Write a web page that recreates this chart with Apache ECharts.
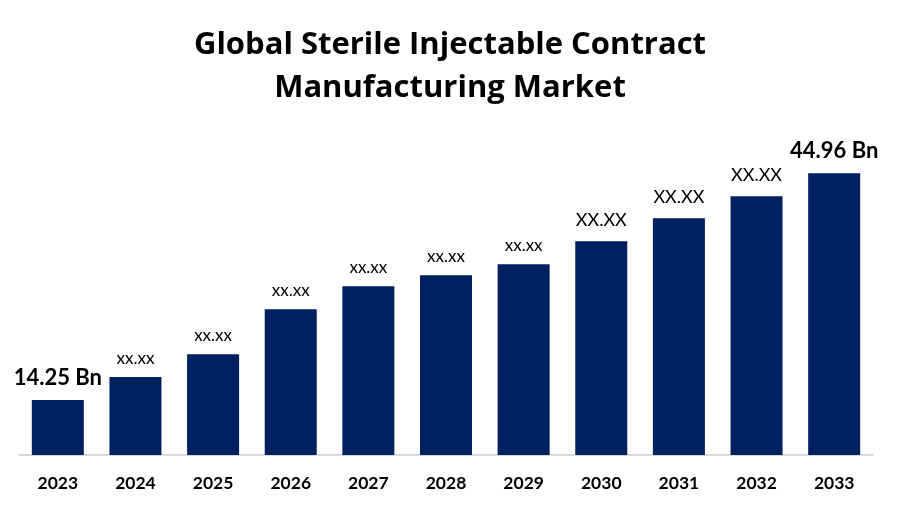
<!DOCTYPE html>
<html><head><meta charset="utf-8">
<script src="https://cdn.jsdelivr.net/npm/echarts@6/dist/echarts.min.js"></script>
<style>html,body{margin:0;padding:0;background:#fff}#c{width:900px;height:525px}</style>
</head><body><div id="c"></div>
<script>
var categories = ['2023','2024','2025','2026','2027','2028','2029','2030','2031','2032','2033'];
var values = [14.25, 17.35, 20.46, 26.55, 29.66, 31.15, 32.64, 35.75, 38.86, 41.84, 44.96];
var valueLabels = ['14.25 Bn','xx.xx','xx.xx','xx.xx','xx.xx','xx.xx','xx.xx','XX.XX','XX.XX','XX.XX','44.96 Bn'];
var labelKind = ['big','small','small','small','small','small','small','mid','mid','mid','big'];

var styles = {
  big: {fontSize: 22, fontWeight: 'bold', distance: 11},
  small: {fontSize: 17, fontWeight: 'normal', distance: 10},
  mid: {fontSize: 18, fontWeight: 'normal', distance: 12}
};
var data = values.map(function(v, i){
  var s = styles[labelKind[i]];
  return {value: v, label: {show: true, position: 'top', formatter: valueLabels[i],
    fontSize: s.fontSize, fontWeight: s.fontWeight, distance: s.distance,
    color: '#000', fontFamily: 'Lato'}};
});
var chart = echarts.init(document.getElementById('c'));
chart.setOption({
  animation: false,
  title: {text: 'Global Sterile Injectable Contract\nManufacturing Market', left: 'center', top: 19,
    textStyle: {fontFamily: 'Open Sans', fontSize: 31, fontWeight: 'bold', color: '#000', lineHeight: 43}},
  grid: {left: 19, right: 27, top: 136, bottom: 70, containLabel: false},
  xAxis: {type: 'category', data: categories,
    axisLine: {lineStyle: {color: '#d9d9d9', width: 2}}, axisTick: {show: false},
    axisLabel: {fontFamily: 'Lato', fontSize: 17.5, fontWeight: 'bold', color: '#000', margin: 19}},
  yAxis: {type: 'value', min: 6.8, max: 50, show: false, splitLine: {show: false}},
  series: [{type: 'bar', data: data, barCategoryGap: '33%', itemStyle: {color: '#002060'}}]
});
</script></body></html>
